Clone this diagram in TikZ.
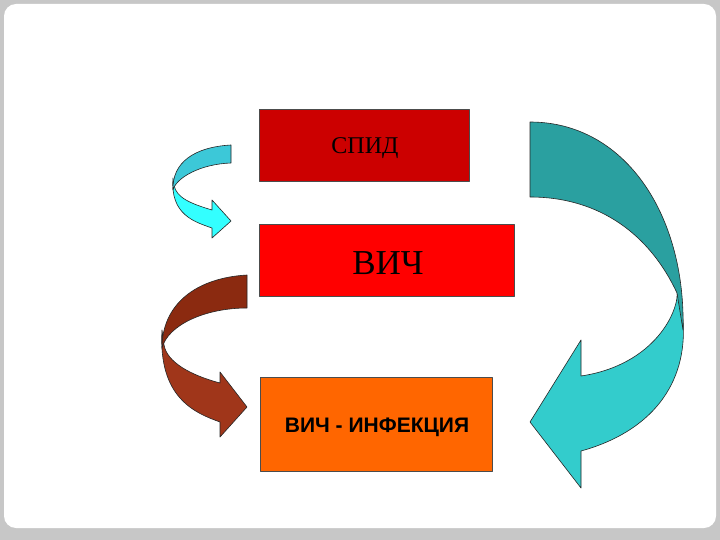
\documentclass[tikz,border=0pt]{standalone}
\usepackage{fontspec}
\setmainfont{Liberation Serif}
\newfontfamily\sansf{Liberation Sans}
\begin{document}
\begin{tikzpicture}[x=1pt,y=-1pt,line join=round,
  box/.style={draw=black!70,line width=0.8pt,inner sep=0pt,anchor=north west},
  arr/.style={draw=black!85,line width=0.6pt}]
\definecolor{cDarkRed}{RGB}{204,0,0}
\definecolor{cRed}{RGB}{255,0,0}
\definecolor{cOrange}{RGB}{255,102,0}
\definecolor{cTealD}{RGB}{42,160,160}
\definecolor{cTealL}{RGB}{51,204,204}
\definecolor{cCyanD}{RGB}{60,200,216}
\definecolor{cCyanL}{RGB}{51,255,255}
\definecolor{cBrownD}{RGB}{139,42,16}
\definecolor{cBrownL}{RGB}{160,54,26}
\useasboundingbox (0,0) rectangle (720,540);
\fill[black!22] (0,0) rectangle (720,540);
\fill[white,rounded corners=12pt] (4,4) rectangle (716,528);
% boxes
\node[box,fill=cDarkRed,minimum width=210pt,minimum height=72pt] (spid) at (259,109) {};
\node[font=\fontsize{24}{26}\selectfont] (tspid) at (365,148) {СПИД};
\node[box,fill=cRed,minimum width=255pt,minimum height=72pt] (vich) at (259,224) {};
\node[font=\fontsize{35}{37}\selectfont] (tvich) at (388,263) {ВИЧ};
\node[box,fill=cOrange,minimum width=232pt,minimum height=94pt] (inf) at (260,377) {};
\node[font=\sansf\bfseries\fontsize{21}{23}\selectfont] (tinf) at (377,427) {ВИЧ - ИНФЕКЦИЯ};
% right teal arrow
\path[arr,fill=cTealL] (677,290) .. controls (680,310) and (655,365) .. (581,376) -- (581,340) -- (530,422) -- (581,488) -- (581,451) .. controls (650,432) and (688,385) .. (683,320) -- cycle;
\path[arr,fill=cTealD] (530,122) .. controls (625,122) and (686,215) .. (683,330) -- (677,293) .. controls (650,235) and (600,197) .. (530,197) -- cycle;
% cyan arrow
\path[arr,fill=cCyanL] (173,178) .. controls (170,215) and (195,222) .. (212,228) -- (212,238) -- (231,221) -- (212,200) -- (212,210) .. controls (192,204) and (176,198) .. (174,185) -- cycle;
\path[arr,fill=cCyanD] (231,145) .. controls (195,147) and (172,162) .. (173,190) .. controls (176,178) and (200,164) .. (231,163) -- cycle;
% brown arrow
\path[arr,fill=cBrownL] (162,330) .. controls (158,398) and (195,413) .. (220,422) -- (220,437) -- (247,407) -- (220,372) -- (220,383) .. controls (190,375) and (167,362) .. (164,345) -- cycle;
\path[arr,fill=cBrownD] (247,275) .. controls (195,278) and (162,305) .. (162,348) .. controls (168,325) and (205,308) .. (247,308) -- cycle;
\end{tikzpicture}
\end{document}
